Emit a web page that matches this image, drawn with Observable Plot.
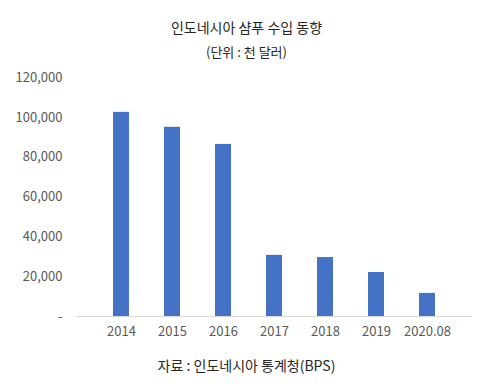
<!DOCTYPE html>
<html>
<head>
<meta charset="utf-8">
<script src="https://cdn.jsdelivr.net/npm/d3@7"></script>
<script src="https://cdn.jsdelivr.net/npm/@observablehq/plot@0.6"></script>
<style>
  html, body { margin: 0; padding: 0; background: #fff; }
  #wrap { width: 493px; height: 389px; position: relative; font-family: "Noto Sans CJK KR", "Noto Sans", sans-serif; color: #262626; }
  .title { position: absolute; left: 0; width: 493px; text-align: center; top: 17px; font-size: 14px; line-height: 20px; }
  .subtitle { position: absolute; left: 0; width: 493px; text-align: center; top: 42px; font-size: 13px; line-height: 20px; }
  #chart { position: absolute; left: 0; top: 66px; }
  .caption { position: absolute; left: 0; width: 493px; text-align: center; top: 355px; font-size: 14px; line-height: 20px; }
</style>
</head>
<body>
<div id="wrap">
  <div class="title">인도네시아 샴푸 수입 동향</div>
  <div class="subtitle">(단위 : 천 달러)</div>
  <div id="chart"></div>
  <div class="caption">자료 : 인도네시아 통계청(BPS)</div>
</div>
<script>
const years = ["2014", "2015", "2016", "2017", "2018", "2019", "2020.08"];
const imports = [102500, 95000, 86400, 30700, 29600, 22100, 11600];
const yTicks = [0, 20000, 40000, 60000, 80000, 100000, 120000];

const data = years.map((y, i) => ({year: y, value: imports[i]}));

const chart = Plot.plot({
  width: 493,
  height: 280,
  marginTop: 11,
  marginBottom: 30,
  marginLeft: 77,
  marginRight: 21,
  style: {fontFamily: '"Noto Sans CJK KR", "Noto Sans", sans-serif', fontSize: "13px", color: "#595959", background: "transparent"},
  x: {domain: years, padding: 0.68, label: null},
  y: {domain: [0, 120000], label: null},
  marks: [
    Plot.barY(data, {x: "year", y: "value", fill: "#4472C4"}),
    Plot.ruleY([0], {stroke: "#d9d9d9", strokeWidth: 1}),
    Plot.axisX({tickSize: 0, tickPadding: 10, label: null, fill: "#595959"}),
    Plot.axisY({ticks: yTicks, tickSize: 0, tickPadding: 15, label: null, fill: "#595959",
      tickFormat: d => d === 0 ? "-" : d3.format(",")(d)})
  ]
});
document.getElementById("chart").appendChild(chart);
</script>
</body>
</html>
